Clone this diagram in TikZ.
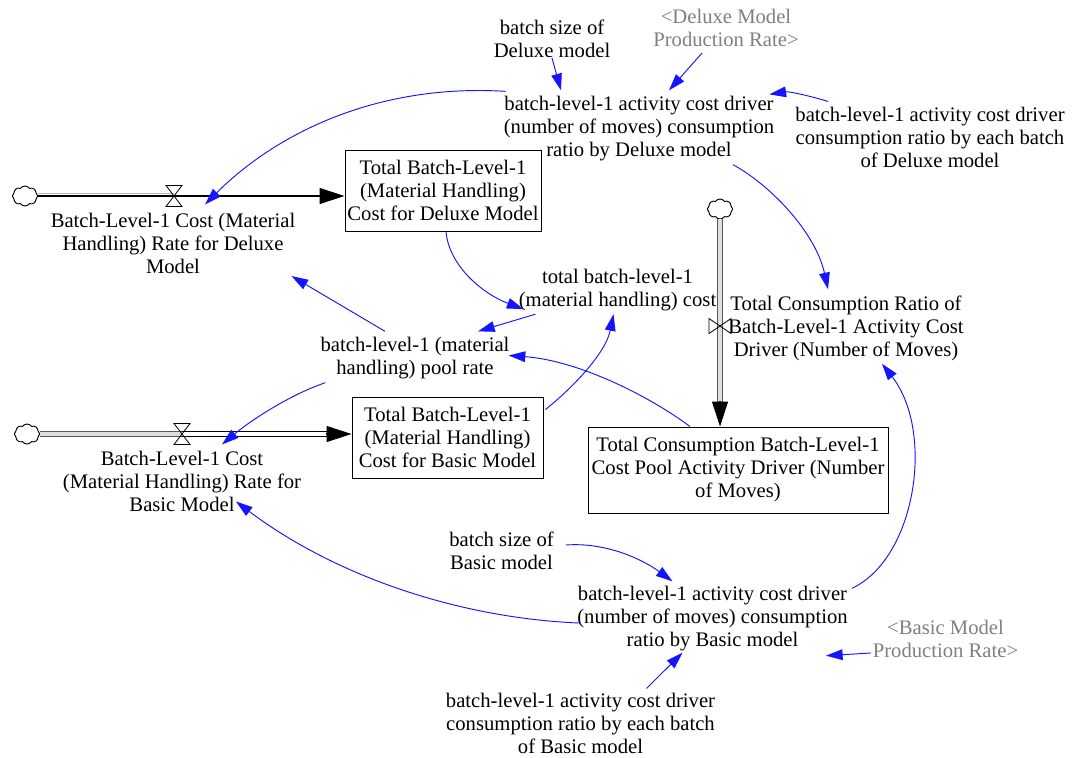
\documentclass[tikz,border=0pt]{standalone}
\usepackage{fontspec}
\setmainfont{Liberation Serif}
\usetikzlibrary{shapes.symbols,arrows.meta,calc}
\definecolor{linkblue}{RGB}{20,20,255}
\definecolor{graytext}{RGB}{128,128,128}
\tikzset{
  valveh/.pic={\draw[line width=0.6pt] (-8,-10.5) -- (8,-10.5) -- (-8,10.5) -- (8,10.5) -- cycle;},
  valvev/.pic={\draw[line width=0.6pt] (-11,-7.5) -- (-11,7.5) -- (11,-7.5) -- (11,7.5) -- cycle;}
}
\begin{document}
\begin{tikzpicture}[x=0.75pt,y=-0.75pt,
  every node/.style={font=\fontsize{15.5}{17.25}\selectfont},
  lbl/.style={align=center, inner sep=0pt},
  glbl/.style={lbl, text=graytext},
  stock/.style={draw, line width=0.7pt, align=center, inner sep=0pt},
  cloudn/.style={cloud, cloud puffs=8, cloud puff arc=110, draw, line width=0.7pt, inner sep=0pt, minimum width=19pt, minimum height=15pt, aspect=1.3},
  conn/.style={draw=linkblue, line width=0.7pt, -{Triangle[length=12.5pt,width=8pt]}},
  pipeg/.style={draw=black!65, line width=0.7pt, double=gray!25, double distance=2.5pt},
  pipew/.style={draw=black, line width=0.7pt, double=white, double distance=2.5pt},
  flowtip/.style={line width=0.8pt, -{Triangle[length=18.75pt,width=12pt]}}
]
\fill[white] (0,0) rectangle (1073,757);
\useasboundingbox (0,0) rectangle (1073,757);

% nodes
\node[lbl] (r1) at (173,243) {Batch-Level-1 Cost (Material\\Handling) Rate for Deluxe\\Model};
\node[stock, minimum width=147pt, minimum height=60.75pt] (b1) at (443,190.5) {Total Batch-Level-1\\(Material Handling)\\Cost for Deluxe Model};
\node[lbl] (dr) at (639,129) {batch-level-1 activity cost driver\\(number of moves) consumption\\ratio by Deluxe model};
\node[lbl] (bsd) at (552,39) {batch size of\\Deluxe model};
\node[glbl] (dpr) at (726,28) {<Deluxe Model\\Production Rate>};
\node[lbl] (ebd) at (930,137) {batch-level-1 activity cost driver\\consumption ratio by each batch\\of Deluxe model};
\node[lbl] (tcr) at (846,328) {Total Consumption Ratio of\\Batch-Level-1 Activity Cost\\Driver (Number of Moves)};
\node[lbl] (tc) at (617.5,290) {total batch-level-1\\(material handling) cost};
\node[lbl] (pr) at (415,358.5) {batch-level-1 (material\\handling) pool rate};
\node[stock, minimum width=143.25pt, minimum height=60.75pt] (b2) at (447.5,437.5) {Total Batch-Level-1\\(Material Handling)\\Cost for Basic Model};
\node[lbl] (r2) at (182,481) {Batch-Level-1 Cost\\(Material Handling) Rate for\\Basic Model};
\node[stock, minimum width=225pt, minimum height=64.5pt] (b3) at (738,470) {Total Consumption Batch-Level-1\\Cost Pool Activity Driver (Number\\of Moves)};
\node[lbl] (bsb) at (501.5,551) {batch size of\\Basic model};
\node[lbl] (brat) at (712.5,619) {batch-level-1 activity cost driver\\(number of moves) consumption\\ratio by Basic model};
\node[lbl] (ebb) at (580.5,723) {batch-level-1 activity cost driver\\consumption ratio by each batch\\of Basic model};
\node[glbl] (bpr) at (945.5,639) {<Basic Model\\Production Rate>};

% clouds and valves
\node[cloudn] (c1) at (25,196) {};
\node[cloudn] (c2) at (720,209) {};
\node[cloudn] (c3) at (27,434) {};
\coordinate (v1) at (174,196);
\coordinate (v2) at (720,326);
\coordinate (v3) at (182,434);
\coordinate (f1e) at (c1 -| b1.west);
\coordinate (f2e) at (c2 |- b3.north);
\coordinate (f3e) at (c3 -| b2.west);

% flow 1 (Deluxe)
\draw[gray!60, line width=0.6pt] ([yshift=2.2pt]c1.east) -- ([yshift=2.2pt]v1);
\draw[flowtip] (c1.east) -- (f1e);
\pic at (v1) {valveh};

% flow 2 (vertical)
\draw[pipeg] (c2.south) -- ([yshift=17pt]f2e);
\draw[flowtip] ([yshift=19pt]f2e) -- (f2e);
\pic at (v2) {valvev};

% flow 3 (Basic)
\draw[pipeg] (c3.east) -- (v3);
\draw[pipew] (v3) -- ([xshift=-17pt]f3e);
\draw[flowtip] ([xshift=-19pt]f3e) -- (f3e);
\pic at (v3) {valveh};

% connectors
\draw[conn] ($(dr.north west)+(2,-5)$) .. controls +(-130,-8) and +(70,-70) .. ($(r1.north)+(32,-8)$);
\draw[conn] (bsd.south) -- ($(dr.north)+(-78,-6)$);
\draw[conn] ($(dpr.south)+(-24,6)$) -- ($(dr.north)+(30,-6)$);
\draw[conn] ($(ebd.north west)+(33,-5)$) .. controls +(-20,-6) and +(20,-3) .. ($(dr.north east)+(-5,-2)$);
\draw[conn] ($(dr.south)+(94,3)$) .. controls +(40,22) and +(-12,-55) .. ($(tcr.north)+(-18,-6)$);
\draw[conn] ($(b1.south)+(3,0)$) .. controls +(3,35) and +(-40,-15) .. ($(tc.south west)+(5,-2)$);
\draw[conn] ($(tc.south west)+(17,3)$) -- ($(pr.north)+(63,-6)$);
\draw[conn] ($(pr.north)+(-30,-6)$) -- ($(r1.south east)+(-4,2.5)$);
\draw[conn] ($(b2.north east)+(2,13)$) .. controls +(25,-20) and +(-8,40) .. ($(tc.south)+(-4,3)$);
\draw[conn] ($(b3.north)+(-48,0)$) .. controls +(-40,-30) and +(70,5) .. ($(pr.east)+(-1,-3)$);
\draw[conn] ($(pr.south west)+(5,3)$) .. controls +(-35,12) and +(30,-25) .. ($(r2.north)+(40,-6)$);
\draw[conn] ($(brat.west)+(2,4)$) .. controls +(-120,-5) and +(100,75) .. ($(r2.south)+(54,-10)$);
\draw[conn] ($(bsb.east)+(12,-6)$) .. controls +(40,-3) and +(-30,-22) .. ($(brat.north)+(-40,-5)$);
\draw[conn] ($(brat.north east)+(4,2)$) .. controls +(64,-30) and +(53,68) .. ($(tcr.south)+(36,3)$);
\draw[conn] ($(ebb.north)+(66,-4)$) -- ($(brat.south)+(-30,1)$);
\draw[conn] ($(bpr.south west)+(-2,-5)$) -- ($(brat.south east)+(-22,4)$);
\end{tikzpicture}
\end{document}
